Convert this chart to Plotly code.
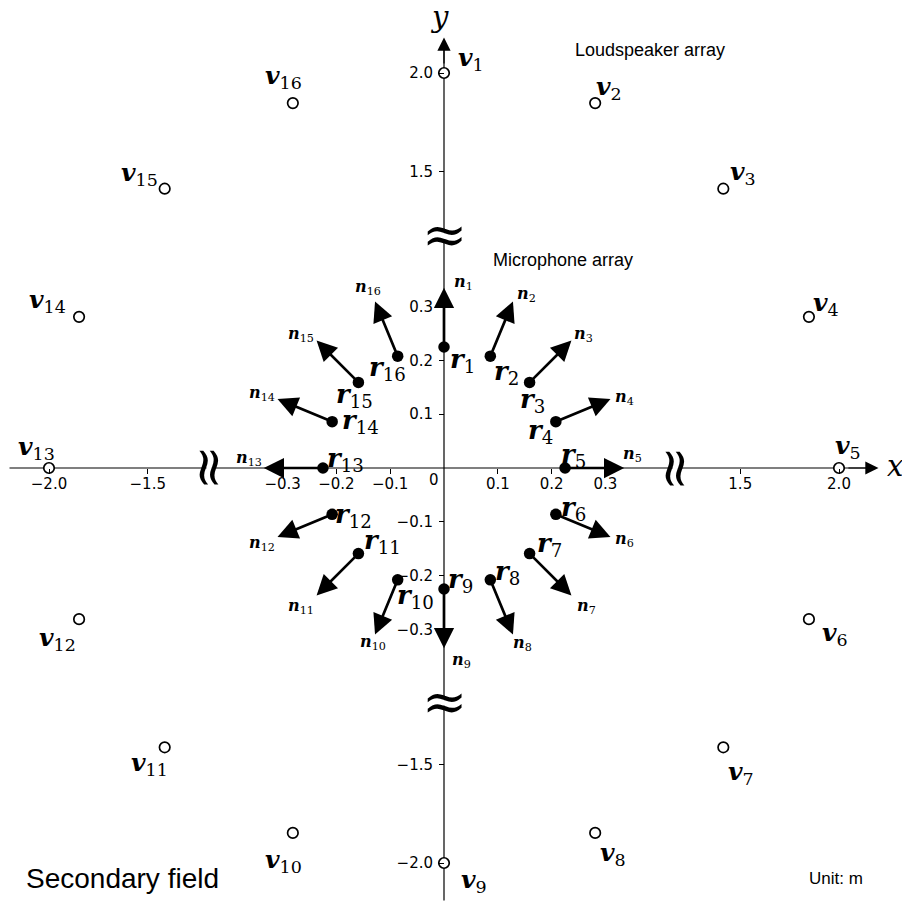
import math
import plotly.graph_objects as go

# ---------------- data ----------------
mic_angles_deg = [90, 67.5, 45, 22.5, 0, -22.5, -45, -67.5,
                  -90, -112.5, -135, -157.5, 180, 157.5, 135, 112.5]
mic_radius = 0.225          # m (inner, zoomed scale)
normal_length = 0.11        # m (length of drawn normal vectors)
spk_angles_deg = [90, 67.5, 45, 22.5, 0, -22.5, -45, -67.5,
                  -90, -112.5, -135, -157.5, 180, 157.5, 135, 112.5]
spk_radius = 2.0            # m (outer scale)
inner_ticks = [-0.3, -0.2, -0.1, 0.1, 0.2, 0.3]
outer_ticks = [-2.0, -1.5, 1.5, 2.0]
axis_break = 1.18           # position of the axis-break marks (outer scale)
labels_idx = list(range(1, 17))

# ---------------- layout constants ----------------
W, H = 902, 907
CX, CY = 444, 468           # pixel position of the origin
S_IN = 538.0                # px per m, inner scale
S_OUT = 197.5               # px per m, outer scale

mic_x = [mic_radius * math.cos(math.radians(a)) for a in mic_angles_deg]
mic_y = [mic_radius * math.sin(math.radians(a)) for a in mic_angles_deg]
tip_x = [(mic_radius + normal_length) * math.cos(math.radians(a)) for a in mic_angles_deg]
tip_y = [(mic_radius + normal_length) * math.sin(math.radians(a)) for a in mic_angles_deg]
spk_x = [spk_radius * math.cos(math.radians(a)) for a in spk_angles_deg]
spk_y = [spk_radius * math.sin(math.radians(a)) for a in spk_angles_deg]

# label offsets in pixels (dx right, dy down)
v_off = [(27, -14), (14, -15), (20, -16), (17, -13), (9, -21), (26, 15), (18, 26), (18, 21),
         (30, 18), (-9, 28), (-15, 17), (-22, 20), (-13, -20), (-32, -16), (-25, -15), (-9, -26)]
r_off = [(18, 14), (16, 16), (3, 18), (-15, 10), (8, -13), (18, -6), (20, -9), (17, -7),
         (16, -9), (18, 17), (24, -12), (21, 1), (23, -9), (28, 0), (-4, 13), (-10, 12)]
n_off = [(19, -5), (14, -7), (12, -6), (14, -2), (8, -14), (14, 3), (15, 11), (10, 9),
         (17, 12), (-2, 8), (-16, 11), (-15, 7), (-15, -10), (-15, -6), (-16, -6), (-7, -14)]

SERIF = "DejaVu Serif"
SANS = "Liberation Sans"
TICKF = dict(family="DejaVu Sans", size=15, color="black")

fig = go.Figure()

# axis lines (outer scale)
fig.add_trace(go.Scatter(x=[-2.2, 2.15], y=[0, 0], mode="lines", xaxis="x2", yaxis="y2",
                         line=dict(color="black", width=1.2), hoverinfo="skip", showlegend=False))
fig.add_trace(go.Scatter(x=[0, 0], y=[-2.19, 2.13], mode="lines", xaxis="x2", yaxis="y2",
                         line=dict(color="black", width=1.2), hoverinfo="skip", showlegend=False))
# small white gaps at the axis breaks
fig.add_trace(go.Scatter(x=[axis_break, -axis_break, 0, 0], y=[0, 0, axis_break, -axis_break],
                         mode="markers", xaxis="x2", yaxis="y2",
                         marker=dict(size=9, color="white", symbol="square", line=dict(width=0)),
                         hoverinfo="skip", showlegend=False))
# loudspeakers
fig.add_trace(go.Scatter(x=spk_x, y=spk_y, mode="markers", xaxis="x2", yaxis="y2",
                         marker=dict(size=10.5, color="white", line=dict(color="black", width=1.7)),
                         hoverinfo="skip", showlegend=False))
# microphones
fig.add_trace(go.Scatter(x=mic_x, y=mic_y, mode="markers", xaxis="x", yaxis="y",
                         marker=dict(size=11.5, color="black"), hoverinfo="skip", showlegend=False))

ann = []
# normal vectors
for i in range(16):
    ann.append(dict(x=tip_x[i], y=tip_y[i], ax=mic_x[i], ay=mic_y[i], xref="x", yref="y",
                    axref="x", ayref="y", showarrow=True, text="", arrowhead=2,
                    arrowsize=1.5, arrowwidth=2.7, arrowcolor="black", standoff=0))
# axis arrow heads
ann.append(dict(x=2.2, y=0, ax=2.04, ay=0, xref="x2", yref="y2", axref="x2", ayref="y2",
                showarrow=True, text="", arrowhead=2, arrowsize=2.2, arrowwidth=1.2,
                arrowcolor="black", standoff=0))
ann.append(dict(x=0, y=2.18, ax=0, ay=2.04, xref="x2", yref="y2", axref="x2", ayref="y2",
                showarrow=True, text="", arrowhead=2, arrowsize=2.2, arrowwidth=1.2,
                arrowcolor="black", standoff=0))

# labels
for i, k in enumerate(labels_idx):
    dx, dy = v_off[i]
    ann.append(dict(x=spk_x[i], y=spk_y[i], xref="x2", yref="y2", showarrow=False,
                    text=f"<b><i>v</i></b><sub>{k}</sub>", xshift=dx, yshift=-dy,
                    xanchor="center", yanchor="middle",
                    font=dict(family=SERIF, size=25, color="black")))
    dx, dy = r_off[i]
    ann.append(dict(x=mic_x[i], y=mic_y[i], xref="x", yref="y", showarrow=False,
                    text=f"<b><i>r</i></b><sub>{k}</sub>", xshift=dx, yshift=-dy,
                    xanchor="center", yanchor="middle",
                    font=dict(family=SERIF, size=26, color="black")))
    dx, dy = n_off[i]
    ann.append(dict(x=tip_x[i], y=tip_y[i], xref="x", yref="y", showarrow=False,
                    text=f"<b><i>n</i></b><sub>{k}</sub>", xshift=dx, yshift=-dy,
                    xanchor="center", yanchor="middle",
                    font=dict(family=SERIF, size=16, color="black")))

# axis break marks
for yb in (axis_break, -axis_break):
    ann.append(dict(x=0, y=yb, xref="x2", yref="y2", showarrow=False, text="≈",
                    xanchor="center", yanchor="middle",
                    font=dict(family=SERIF, size=54, color="black")))
for xb in (axis_break, -axis_break):
    ann.append(dict(x=xb, y=0, xref="x2", yref="y2", showarrow=False, text="≈",
                    textangle=90, xanchor="center", yanchor="middle",
                    font=dict(family=SERIF, size=54, color="black")))

# axis names and origin
ann.append(dict(x=2.2, y=0, xref="x2", yref="y2", showarrow=False, text="<i>x</i>",
                xshift=16, yshift=2, font=dict(family=SERIF, size=29, color="black")))
ann.append(dict(x=0, y=2.18, xref="x2", yref="y2", showarrow=False, text="<i>y</i>",
                xshift=-5, yshift=20, font=dict(family=SERIF, size=29, color="black")))
ann.append(dict(x=0, y=0, xref="x", yref="y", showarrow=False, text="0",
                xshift=-10, yshift=-12, font=TICKF))

# captions
def paper(px, py):
    return px / W, 1 - py / H

for txt, (px, py), size in [("Loudspeaker array", (650, 50), 18),
                            ("Microphone array", (563, 260), 18),
                            ("Unit: m", (836, 878), 17),
                            ("Secondary field", (122, 878), 28)]:
    xp, yp = paper(px, py)
    ann.append(dict(x=xp, y=yp, xref="paper", yref="paper", showarrow=False, text=txt,
                    xanchor="center", yanchor="middle",
                    font=dict(family=SANS, size=size, color="black")))

def axis(rng, ticks, pos, **kw):
    d = dict(range=rng, showgrid=False, zeroline=False, showline=False, ticks="outside",
             ticklen=5, tickwidth=1.2, tickcolor="black", tickvals=ticks, tickformat=".1f",
             tickfont=TICKF, anchor="free", position=pos, fixedrange=True)
    d.update(kw)
    return d

fig.update_layout(
    width=W, height=H, margin=dict(l=0, r=0, t=0, b=0),
    paper_bgcolor="white", plot_bgcolor="white", showlegend=False,
    xaxis=axis([-CX / S_IN, (W - CX) / S_IN], inner_ticks, (H - CY) / H, side="bottom",
               ticklabelstandoff=-3),
    yaxis=axis([-(H - CY) / S_IN, CY / S_IN], inner_ticks, CX / W, side="left",
               ticklabelstandoff=3),
    xaxis2=axis([-CX / S_OUT, (W - CX) / S_OUT], outer_ticks, (H - CY) / H,
                side="bottom", overlaying="x", ticklabelstandoff=-3),
    yaxis2=axis([-(H - CY) / S_OUT, CY / S_OUT], outer_ticks, CX / W,
                side="left", overlaying="y", ticklabelstandoff=3),
    annotations=ann,
)

fig.write_html("out.html")
